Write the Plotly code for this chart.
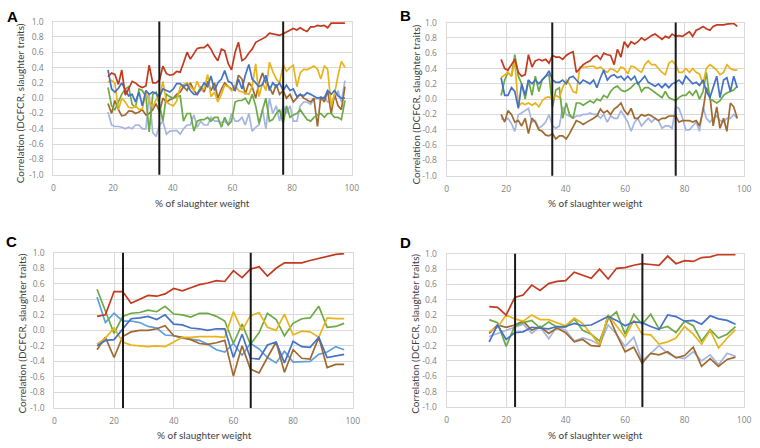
import plotly.graph_objects as go

# ---------------- data ----------------
x_ab = [18.3, 19.5, 20.6, 21.8, 22.9, 24.1, 25.2, 26.4, 27.5, 28.7,
        29.8, 31.0, 32.1, 33.3, 34.4, 35.6, 36.7, 37.9, 39.0, 40.2,
        41.3, 42.5, 43.6, 44.8, 45.9, 47.1, 48.2, 49.4, 50.5, 51.7,
        52.8, 54.0, 55.1, 56.3, 57.4, 58.6, 59.7, 60.9, 62.0, 63.2,
        64.3, 65.5, 66.6, 67.8, 68.9, 70.1, 71.2, 72.4, 73.5, 74.7,
        75.8, 77.0, 78.1, 79.3, 80.4, 81.6, 82.7, 83.9, 85.0, 86.2,
        87.3, 88.5, 89.6, 90.8, 91.9, 93.1, 94.2, 95.4, 96.5, 97.7]

a_red = [0.28, 0.33, 0.31, 0.18, 0.37, 0.04, 0.12, 0.22, 0.20, 0.16,
         0.14, 0.16, 0.43, 0.20, 0.20, 0.24, 0.42, 0.32, 0.30, 0.31,
         0.35, 0.34, 0.46, 0.60, 0.51, 0.58, 0.65, 0.66, 0.66, 0.70,
         0.64, 0.55, 0.49, 0.64, 0.62, 0.45, 0.37, 0.60, 0.73, 0.49,
         0.52, 0.59, 0.64, 0.73, 0.75, 0.78, 0.80, 0.85, 0.84, 0.82,
         0.82, 0.84, 0.86, 0.88, 0.91, 0.89, 0.92, 0.89, 0.87, 0.93,
         0.93, 0.95, 0.94, 0.95, 0.92, 0.98, 0.98, 0.98, 0.98, 0.98]
a_yellow = [0.21, 0.23, 0.20, -0.15, 0.00, -0.05, -0.12, -0.13, -0.10, -0.15,
            -0.14, 0.08, -0.05, -0.12, -0.02, 0.00, 0.22, -0.05, -0.08, -0.10,
            -0.04, 0.15, 0.18, 0.20, 0.15, 0.10, 0.22, 0.10, 0.12, 0.31,
            0.02, 0.08, -0.05, 0.05, 0.17, 0.15, 0.10, 0.17, 0.10, 0.08,
            0.06, 0.05, 0.15, 0.45, 0.02, 0.20, 0.10, 0.47, 0.35, 0.25,
            0.20, 0.44, 0.35, 0.40, 0.43, 0.15, 0.33, 0.38, 0.37, 0.40,
            0.42, 0.38, 0.25, 0.42, 0.38, -0.10, 0.05, 0.30, 0.48, 0.40]
a_blue = [0.37, 0.12, 0.08, 0.13, 0.20, 0.12, 0.03, 0.05, -0.05, 0.08,
          -0.10, 0.10, 0.05, 0.08, 0.06, 0.02, 0.12, 0.10, 0.08, 0.12,
          0.19, 0.19, 0.15, 0.18, 0.10, 0.05, 0.05, 0.12, 0.20, 0.15,
          0.29, 0.10, 0.20, 0.25, 0.36, 0.22, 0.20, 0.10, 0.25, 0.12,
          0.30, 0.44, 0.25, 0.20, 0.15, 0.18, 0.30, 0.10, 0.20, 0.15,
          0.20, 0.10, 0.17, 0.10, 0.12, 0.02, 0.05, 0.03, 0.07, 0.05,
          0.03, 0.00, 0.01, 0.00, 0.10, 0.05, 0.10, 0.03, 0.00, 0.00]
a_green = [0.14, -0.10, -0.15, -0.05, 0.05, 0.12, 0.15, -0.08, -0.12, 0.12,
           0.10, 0.02, -0.44, 0.05, 0.08, -0.10, -0.30, 0.05, 0.02, 0.00,
           0.02, 0.03, -0.30, -0.20, -0.20, -0.43, -0.30, -0.28, -0.28, -0.25,
           -0.30, -0.25, -0.25, -0.38, -0.25, -0.35, -0.30, -0.05, -0.03, -0.03,
           0.00, -0.08, 0.05, -0.10, -0.33, -0.15, 0.00, -0.30, -0.28, -0.20,
           -0.15, -0.33, -0.10, -0.25, -0.22, -0.20, -0.15, -0.22, -0.28, -0.30,
           -0.25, -0.22, -0.20, -0.25, -0.20, -0.20, -0.25, -0.25, -0.28, -0.03]
a_brown = [-0.07, -0.20, -0.03, -0.15, -0.23, -0.22, -0.17, -0.17, -0.20, -0.18,
           -0.15, -0.22, -0.20, -0.15, -0.07, -0.18, 0.00, -0.05, -0.02, 0.00,
           0.05, 0.08, 0.15, 0.10, 0.20, 0.10, 0.05, 0.15, 0.08, 0.22,
           0.10, 0.20, 0.00, 0.12, 0.20, 0.15, 0.12, 0.10, 0.30, 0.25,
           0.05, 0.20, 0.15, 0.00, 0.20, 0.33, 0.20, 0.15, 0.05, 0.18,
           0.05, 0.10, 0.00, 0.05, -0.05, 0.00, 0.05, 0.00, -0.02, -0.05,
           0.00, -0.37, 0.02, -0.05, 0.10, -0.20, 0.05, -0.10, -0.15, 0.15]
a_lavender = [-0.18, -0.35, -0.37, -0.37, -0.38, -0.40, -0.38, -0.40, -0.35, -0.35,
              -0.40, -0.40, 0.05, -0.45, -0.50, -0.35, -0.30, -0.47, -0.43, -0.42,
              -0.42, -0.47, -0.40, -0.35, -0.35, -0.22, -0.38, -0.30, -0.35, -0.35,
              -0.25, -0.30, -0.30, -0.32, -0.30, -0.35, -0.20, -0.30, -0.30, -0.25,
              -0.35, -0.20, -0.43, -0.38, -0.35, -0.15, -0.40, 0.00, -0.20, -0.10,
              -0.30, -0.10, -0.20, -0.10, -0.30, -0.30, -0.10, -0.05, -0.05, -0.08,
              -0.02, 0.00, -0.03, 0.02, -0.05, -0.05, 0.00, 0.10, -0.05, 0.23]

b_red = [0.52, 0.40, 0.38, 0.45, 0.52, 0.35, 0.30, 0.32, 0.58, 0.42,
         0.50, 0.52, 0.50, 0.52, 0.47, 0.57, 0.55, 0.55, 0.52, 0.57,
         0.60, 0.62, 0.35, 0.40, 0.45, 0.48, 0.50, 0.55, 0.57, 0.52,
         0.60, 0.58, 0.57, 0.45, 0.65, 0.55, 0.75, 0.68, 0.75, 0.72,
         0.75, 0.80, 0.77, 0.80, 0.83, 0.85, 0.82, 0.78, 0.82, 0.80,
         0.85, 0.82, 0.83, 0.82, 0.85, 0.88, 0.82, 0.90, 0.92, 0.95,
         0.92, 0.90, 0.95, 0.97, 0.97, 0.97, 0.98, 0.99, 0.99, 0.95]
b_yellow = [0.28, 0.32, 0.35, 0.30, 0.50, -0.10, -0.05, -0.07, -0.05, -0.08,
            -0.05, -0.10, -0.02, 0.02, 0.03, 0.00, 0.05, 0.02, 0.15, 0.25,
            0.20, 0.10, 0.08, 0.42, 0.42, 0.42, 0.43, 0.43, 0.40, 0.42,
            0.38, 0.35, 0.40, 0.38, 0.35, 0.42, 0.40, 0.33, 0.43, 0.42,
            0.38, 0.35, 0.45, 0.50, 0.45, 0.45, 0.40, 0.35, 0.32, 0.47,
            0.50, 0.45, 0.35, 0.35, 0.40, 0.35, 0.40, 0.35, 0.33, 0.20,
            0.40, 0.45, 0.42, 0.38, 0.32, 0.35, 0.45, 0.40, 0.38, 0.38]
b_blue = [0.28, 0.05, 0.05, 0.15, 0.10, -0.12, 0.20, 0.05, 0.25, 0.20,
          0.25, 0.20, 0.25, 0.30, 0.37, 0.25, 0.22, 0.22, 0.25, 0.20,
          0.28, 0.30, 0.25, 0.20, 0.25, 0.22, 0.20, 0.25, 0.15, 0.28,
          0.38, 0.25, 0.30, 0.32, 0.28, 0.30, 0.25, 0.30, 0.25, 0.30,
          0.20, 0.25, 0.30, 0.22, 0.20, 0.17, 0.20, 0.15, 0.20, 0.15,
          0.20, 0.22, 0.25, 0.20, 0.30, 0.25, 0.20, 0.22, 0.18, 0.25,
          0.10, 0.02, 0.15, 0.30, 0.02, 0.25, 0.28, 0.10, 0.30, 0.15]
b_green = [0.05, 0.25, 0.35, 0.30, 0.58, 0.30, 0.20, 0.00, 0.25, 0.05,
           0.30, 0.10, 0.25, 0.30, 0.32, -0.10, 0.12, 0.15, -0.25, -0.05,
           -0.20, -0.25, -0.05, -0.05, -0.08, -0.05, -0.02, -0.05, 0.00, -0.02,
           0.05, 0.02, 0.10, 0.15, 0.17, 0.12, 0.10, 0.12, 0.15, 0.20,
           0.22, 0.10, 0.15, 0.15, 0.12, 0.08, 0.05, 0.02, 0.10, 0.02,
           0.00, -0.02, 0.02, 0.05, 0.05, 0.10, 0.05, 0.12, 0.00, 0.10,
           0.35, 0.00, -0.02, -0.05, -0.02, 0.05, 0.08, 0.10, 0.12, 0.17]
b_brown = [-0.20, -0.30, -0.15, -0.20, -0.30, -0.28, -0.35, -0.25, -0.45, -0.25,
           -0.30, -0.40, -0.42, -0.47, -0.48, -0.45, -0.52, -0.48, -0.48, -0.52,
           -0.45, -0.35, -0.28, -0.30, -0.33, -0.30, -0.28, -0.25, -0.22, -0.13,
           -0.18, -0.15, -0.20, -0.13, -0.10, -0.05, -0.15, -0.20, -0.12, -0.25,
           -0.25, -0.20, -0.22, -0.20, -0.22, -0.25, -0.28, -0.25, -0.25, -0.22,
           -0.22, -0.22, -0.30, -0.28, -0.28, -0.28, -0.30, -0.28, -0.35, -0.15,
           0.15, 0.05, -0.35, -0.10, -0.38, -0.25, -0.42, -0.05, -0.10, -0.25]
b_lavender = [-0.25, -0.28, -0.25, -0.32, -0.42, -0.20, -0.18, -0.15, -0.12, -0.30,
              -0.28, -0.38, -0.35, -0.30, -0.20, -0.35, -0.38, -0.35, -0.10, -0.20,
              -0.22, -0.25, -0.22, -0.22, -0.20, -0.20, -0.18, -0.20, -0.20, -0.25,
              -0.20, -0.30, -0.22, -0.25, -0.25, -0.15, -0.22, -0.30, -0.42, -0.30,
              -0.25, -0.35, -0.30, -0.25, -0.30, -0.25, -0.28, -0.38, -0.35, -0.35,
              -0.38, -0.10, -0.12, -0.25, -0.40, -0.40, -0.35, -0.30, -0.42, -0.10,
              -0.25, -0.30, -0.25, -0.22, -0.28, -0.30, -0.25, -0.25, -0.20, -0.25]

x_cd = [14.3, 17.1, 20.0, 22.9, 25.7, 28.6, 31.4, 34.3, 37.1, 40.0,
        42.9, 45.7, 48.6, 51.4, 54.3, 57.1, 60.0, 62.9, 65.7, 68.6,
        71.4, 74.3, 77.1, 80.0, 82.9, 85.7, 88.6, 91.4, 94.3, 97.1]

c_red = [0.18, 0.20, 0.50, 0.50, 0.35, 0.40, 0.45, 0.44, 0.47, 0.54,
         0.51, 0.55, 0.59, 0.61, 0.64, 0.63, 0.77, 0.68, 0.79, 0.82,
         0.70, 0.80, 0.87, 0.87, 0.87, 0.90, 0.93, 0.95, 0.98, 0.99]
c_green = [0.53, 0.25, -0.04, 0.18, 0.22, 0.23, 0.26, 0.24, 0.31, 0.21,
           0.20, 0.17, 0.22, 0.22, 0.18, 0.12, -0.17, 0.08, -0.18, -0.03,
           0.22, 0.14, -0.07, 0.09, 0.15, 0.16, 0.31, 0.04, 0.05, 0.09]
c_blue = [-0.20, -0.13, -0.12, 0.02, 0.15, 0.16, 0.18, 0.14, 0.20, 0.08,
          0.07, 0.03, 0.02, 0.00, 0.02, 0.02, -0.35, -0.05, -0.36, -0.37,
          -0.19, -0.15, -0.42, -0.14, -0.21, -0.22, -0.09, -0.35, -0.33, -0.31]
c_sky = [0.43, 0.10, 0.22, 0.12, 0.12, 0.10, 0.05, 0.03, -0.06, -0.07,
         -0.10, -0.11, -0.13, -0.18, -0.25, -0.28, -0.17, -0.32, -0.17, -0.24,
         -0.35, -0.42, -0.27, -0.41, -0.40, -0.40, -0.31, -0.28, -0.21, -0.25]
c_yellow = [-0.18, -0.10, 0.03, -0.15, -0.19, -0.20, -0.21, -0.20, -0.21, -0.15,
            -0.09, -0.09, -0.08, -0.08, -0.08, -0.09, 0.24, 0.00, 0.19, 0.23,
            0.04, 0.00, 0.21, -0.06, -0.01, -0.02, -0.09, 0.16, 0.15, 0.15]
c_brown = [-0.25, -0.09, -0.35, -0.08, -0.02, 0.00, 0.00, 0.02, 0.06, -0.07,
           -0.09, -0.12, -0.17, -0.18, -0.16, -0.13, -0.59, -0.20, -0.50, -0.55,
           -0.35, -0.15, -0.54, -0.25, -0.36, -0.37, -0.09, -0.48, -0.44, -0.44]

d_red = [0.31, 0.30, 0.20, 0.43, 0.46, 0.59, 0.52, 0.61, 0.64, 0.65,
         0.76, 0.72, 0.68, 0.80, 0.67, 0.81, 0.82, 0.85, 0.87, 0.86,
         0.85, 0.97, 0.87, 0.91, 0.90, 0.95, 0.96, 0.99, 0.99, 0.99]
d_blue = [-0.15, 0.07, -0.12, -0.03, -0.02, 0.04, 0.03, 0.02, 0.05, 0.05,
          0.09, 0.06, 0.07, 0.12, 0.18, 0.13, 0.06, 0.11, 0.10, 0.05,
          0.01, 0.20, 0.18, 0.12, 0.13, 0.08, 0.19, 0.15, 0.13, 0.08]
d_green = [0.14, 0.10, -0.21, 0.06, 0.10, 0.13, 0.03, 0.11, 0.04, 0.04,
           0.15, 0.00, -0.05, -0.14, 0.15, 0.24, -0.05, 0.21, 0.08, 0.21,
           0.02, 0.05, -0.03, 0.12, 0.06, -0.14, 0.01, -0.10, -0.05, 0.05]
d_yellow = [-0.02, 0.04, 0.20, 0.15, 0.12, 0.20, 0.14, 0.14, 0.10, 0.06,
            0.16, 0.09, -0.05, -0.19, 0.20, 0.06, -0.09, 0.13, -0.05, -0.06,
            -0.18, -0.15, -0.10, 0.05, -0.05, -0.18, 0.00, -0.23, -0.10, 0.01]
d_lavender = [-0.08, -0.04, 0.00, 0.05, 0.08, -0.04, 0.05, -0.11, 0.05, 0.00,
              -0.14, -0.10, -0.13, -0.19, 0.07, -0.05, -0.21, -0.09, -0.40, -0.30,
              -0.20, -0.30, -0.35, -0.37, -0.28, -0.40, -0.32, -0.45, -0.30, -0.34]
d_brown = [-0.04, 0.07, 0.04, 0.07, 0.12, 0.00, 0.05, -0.04, 0.03, -0.03,
           -0.15, -0.12, -0.20, -0.21, 0.20, -0.05, -0.28, -0.22, -0.43, -0.30,
           -0.32, -0.28, -0.36, -0.33, -0.22, -0.47, -0.37, -0.47, -0.38, -0.35]

stage_lines_ab = [35.5, 77.0]
stage_lines_cd = [23.0, 65.8]

x_ticks = [0, 20, 40, 60, 80, 100]
y_ticks = [-1.0, -0.8, -0.6, -0.4, -0.2, 0.0, 0.2, 0.4, 0.6, 0.8, 1.0]
y_tick_text = ["-1.0", "-0.8", "-0.6", "-0.4", "-0.2", "0.0",
               "0.2", "0.4", "0.6", "0.8", "1.0"]

panel_letters = ["A", "B", "C", "D"]
x_title = "% of slaughter weight"
y_title = "Correlation (DCFCR, slaughter traits)"

# ---------------- styling ----------------
RED = "#C33A1F"
YELLOW = "#E9B31C"
BLUE = "#4472C4"
GREEN = "#6BAA44"
BROWN = "#A0692F"
LAVENDER = "#A5B5E2"
SKY = "#5FA0DC"

W, H = 760, 448
# plot areas in pixels: (left, right, top, bottom)
areas = [(52, 354, 16, 173), (450, 751, 17, 174),
         (53, 355, 253, 412), (450, 751, 254, 411)]

panels = [
    (x_ab, [(a_lavender, LAVENDER), (a_brown, BROWN), (a_green, GREEN),
            (a_yellow, YELLOW), (a_blue, BLUE), (a_red, RED)], stage_lines_ab),
    (x_ab, [(b_lavender, LAVENDER), (b_brown, BROWN), (b_green, GREEN),
            (b_yellow, YELLOW), (b_blue, BLUE), (b_red, RED)], stage_lines_ab),
    (x_cd, [(c_sky, SKY), (c_brown, BROWN), (c_green, GREEN),
            (c_yellow, YELLOW), (c_blue, BLUE), (c_red, RED)], stage_lines_cd),
    (x_cd, [(d_lavender, LAVENDER), (d_brown, BROWN), (d_green, GREEN),
            (d_yellow, YELLOW), (d_blue, BLUE), (d_red, RED)], stage_lines_cd),
]

FONT = "Lato"
TICKFONT = "Open Sans"
GRID = "#d9d9d9"
TICKC = "#7f7f7f"

fig = go.Figure()
layout = dict(width=W, height=H, margin=dict(l=0, r=0, t=0, b=0),
              paper_bgcolor="white", plot_bgcolor="white", showlegend=False,
              shapes=[], annotations=[])

for i, (xs, series, vlines) in enumerate(panels):
    n = i + 1
    sfx = "" if n == 1 else str(n)
    l, r, t, b = areas[i]
    xd = [l / W, r / W]
    yd = [1 - b / H, 1 - t / H]
    layout["xaxis" + sfx] = dict(
        domain=xd, range=[0, 100], tickvals=x_ticks, showgrid=True,
        gridcolor=GRID, gridwidth=1, zeroline=False, showline=True,
        linecolor=GRID, mirror=True, ticks="outside", ticklen=5,
        tickcolor="rgba(0,0,0,0)", anchor="y" + sfx,
        tickfont=dict(family=TICKFONT, size=8.5, color=TICKC), fixedrange=True)
    layout["yaxis" + sfx] = dict(
        domain=yd, range=[-1, 1], tickvals=y_ticks, ticktext=y_tick_text,
        showgrid=True, gridcolor=GRID, gridwidth=1, zeroline=False,
        showline=True, linecolor=GRID, mirror=True, ticks="outside",
        ticklen=7, tickcolor="rgba(0,0,0,0)", anchor="x" + sfx,
        tickfont=dict(family=TICKFONT, size=8.5, color=TICKC), fixedrange=True)
    for ys, col in series:
        fig.add_trace(go.Scatter(x=xs, y=ys, mode="lines",
                                 line=dict(color=col, width=1.7),
                                 xaxis="x" + sfx, yaxis="y" + sfx,
                                 hoverinfo="skip"))
    for xv in vlines:
        layout["shapes"].append(dict(
            type="line", xref="x" + sfx, yref="y" + sfx + " domain",
            x0=xv, x1=xv, y0=0, y1=1,
            line=dict(color="#1a1a1a", width=2)))

# panel letters
letter_pos = [(3, 11), (401, 10), (2, 241), (401, 242)]
for (px, py), letter in zip(letter_pos, panel_letters):
    layout["annotations"].append(dict(
        text="<b>%s</b>" % letter, x=px / W, y=1 - py / H, xref="paper",
        yref="paper", xanchor="left", yanchor="middle", showarrow=False,
        font=dict(family="Liberation Sans", size=15, color="black")))

# axis titles
xt_pos = [(203, 202), (601, 202), (205, 440), (601, 440)]
yt_pos = [(18, 100), (418, 101), (20, 336), (418, 336)]
for (px, py) in xt_pos:
    layout["annotations"].append(dict(
        text=x_title, x=px / W, y=1 - py / H, xref="paper", yref="paper",
        xanchor="center", yanchor="middle", showarrow=False,
        font=dict(family=FONT, size=10, color="#404040")))
for (px, py) in yt_pos:
    layout["annotations"].append(dict(
        text=y_title, x=px / W, y=1 - py / H, xref="paper", yref="paper",
        xanchor="center", yanchor="middle", showarrow=False, textangle=-90,
        font=dict(family=FONT, size=10, color="#404040")))

fig.update_layout(**layout)
fig.write_html("out.html",
               config={"displayModeBar": False},
               post_script="document.body.style.margin='0px';"
                           "document.body.style.overflow='hidden';")
